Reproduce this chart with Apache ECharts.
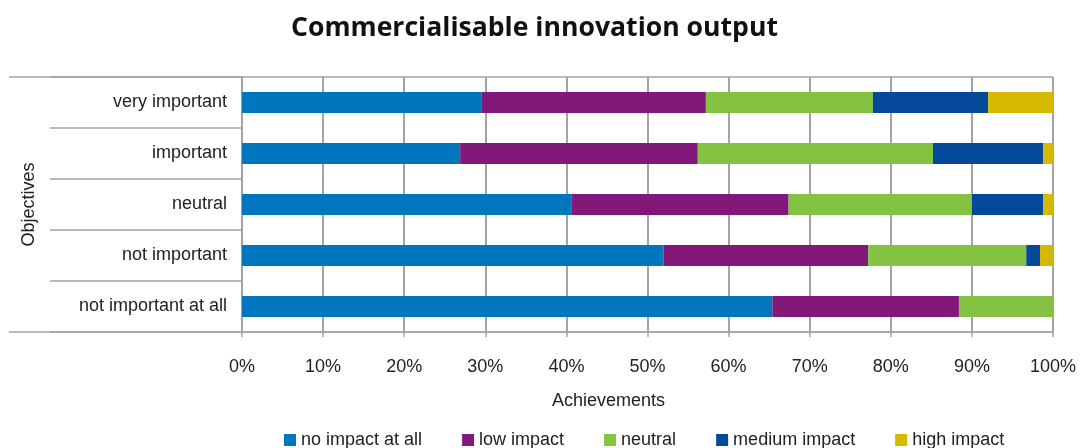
<!DOCTYPE html>
<html>
<head>
<meta charset="utf-8">
<script src="https://cdn.jsdelivr.net/npm/echarts@6/dist/echarts.min.js"></script>
<style>
  html, body { margin: 0; padding: 0; background: #fff; }
  #chart { width: 1081px; height: 448px; }
</style>
</head>
<body>
<div id="chart"></div>
<script>
var objectives = ['not important at all', 'not important', 'neutral', 'important', 'very important'];
var impactNames = ['no impact at all', 'low impact', 'neutral', 'medium impact', 'high impact'];
var noImpact = [65.4, 52.0, 40.6, 26.9, 29.5];
var lowImpact = [23.0, 25.2, 26.8, 29.3, 27.7];
var neutralImpact = [11.6, 19.5, 22.6, 29.0, 20.6];
var mediumImpact = [0, 1.7, 8.8, 13.6, 14.2];
var highImpact = [0, 1.6, 1.2, 1.2, 8.0];
var xTicks = [0, 10, 20, 30, 40, 50, 60, 70, 80, 90, 100];

var colors = ['#0076bf', '#82197a', '#84c341', '#04499a', '#d6b800'];
var seriesData = [noImpact, lowImpact, neutralImpact, mediumImpact, highImpact];
var lineGray = '#a3a3a7';
var font = 'Liberation Sans';

var myChart = echarts.init(document.getElementById('chart'));

// frame lines: top/bottom extend left past the category labels
var gl = 242, gr = 1053, gt = 77, gb = 332;

var option = {
    animation: false,
    title: {
        text: 'Commercialisable innovation output',
        left: 286,
        top: 10,
        textStyle: {
            fontFamily: 'Open Sans',
            fontWeight: 'bold',
            fontSize: 26.6,
            color: '#111'
        }
    },
    legend: {
        data: impactNames,
        left: 279,
        top: 426,
        itemWidth: 12,
        itemHeight: 12,
        itemGap: 40,
        icon: 'rect',
        textStyle: { fontFamily: font, fontSize: 18, color: '#222' }
    },
    grid: { left: gl, right: 1081 - gr, top: gt, bottom: 448 - gb, containLabel: false },
    xAxis: {
        type: 'value',
        min: 0,
        max: 100,
        interval: 10,
        name: 'Achievements',
        nameLocation: 'middle',
        nameGap: 60,
        nameTextStyle: { fontFamily: font, fontSize: 18, color: '#222', padding: [0, 78, 0, 0] },
        axisLine: { show: true, lineStyle: { color: lineGray, width: 1.5 } },
        axisTick: { show: true, length: 5, lineStyle: { color: lineGray, width: 1.5 } },
        axisLabel: {
            fontFamily: font, fontSize: 18, color: '#222', margin: 26,
            formatter: function (v) { return xTicks.indexOf(v) >= 0 ? v + '%' : ''; }
        },
        splitLine: { show: true, lineStyle: { color: lineGray, width: 2 } }
    },
    yAxis: {
        type: 'category',
        data: objectives,
        name: 'Objectives',
        nameLocation: 'middle',
        nameGap: 204,
        nameRotate: 90,
        nameTextStyle: { fontFamily: font, fontSize: 18, color: '#222' },
        axisLine: { show: true, lineStyle: { color: lineGray, width: 1.5 } },
        axisTick: { show: true, length: 192, lineStyle: { color: lineGray, width: 1.5 } },
        axisLabel: { fontFamily: font, fontSize: 18, color: '#222', margin: 15 },
        splitLine: { show: false }
    },
    series: impactNames.map(function (name, i) {
        return {
            name: name,
            type: 'bar',
            stack: 'total',
            barWidth: 21,
            itemStyle: { color: colors[i] },
            data: seriesData[i]
        };
    }),
    graphic: [
        { type: 'line', shape: { x1: 9, y1: gt, x2: gr, y2: gt }, style: { stroke: lineGray, lineWidth: 1.5 }, z: 10 },
        { type: 'line', shape: { x1: 9, y1: gb, x2: gr, y2: gb }, style: { stroke: lineGray, lineWidth: 1.5 }, z: 10 }
    ]
};
myChart.setOption(option);
</script>
</body>
</html>
